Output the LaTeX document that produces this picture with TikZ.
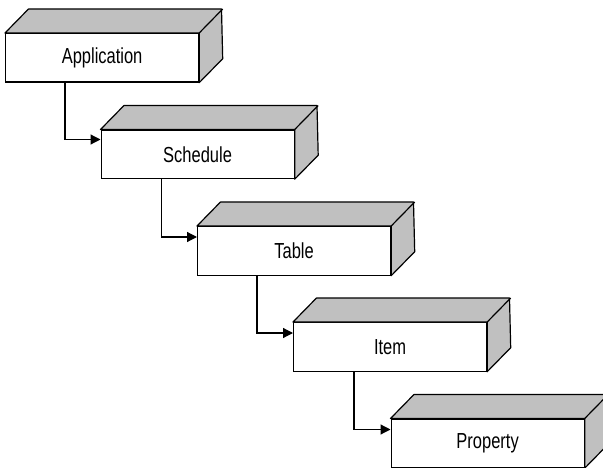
\documentclass[tikz,border=0pt]{standalone}
\usepackage{fontspec}
\setmainfont{Liberation Sans}
\usetikzlibrary{arrows.meta}
\definecolor{facegray}{RGB}{192,192,192}
\newcommand{\tallcaption}[1]{\scalebox{0.97}[1.28]{#1}}
\tikzset{
  front/.style={draw=black, line width=1.2pt, fill=white, rectangle,
    minimum width=193pt, minimum height=48.5pt, anchor=north west,
    inner sep=0pt, font=\fontsize{17}{20}\selectfont},
  face/.style={draw=black, line width=1.2pt, fill=facegray, line join=round},
  link/.style={draw=black, line width=1.2pt,
    -{Triangle[length=10pt,width=10pt]}},
}
\newcommand{\depthbox}[3]{%
  \node[front] (#1) at #2 {\tallcaption{#3}};
  \filldraw[face] (#1.north west) -- ++(23.5,-24) -- ++(193,0)
    -- ([shift={(23.5,-24)}]#1.south east) -- (#1.south east)
    -- (#1.north east) -- cycle;
  \draw[line width=1.2pt] (#1.north east) -- ++(23.5,-24);
}
\begin{document}
\begin{tikzpicture}[x=1pt,y=-1pt]
  \clip (0,0) rectangle (603,468);
  \depthbox{app}{(5,33)}{Application}
  \depthbox{sched}{(100.5,129.5)}{Schedule}
  \depthbox{tab}{(197,226)}{Table}
  \depthbox{item}{(293,322)}{Item}
  \depthbox{prop}{(390.5,418.5)}{Property}
  \draw[link] ([xshift=60pt]app.south west) |- ([yshift=-10pt]sched.north west);
  \draw[link] ([xshift=61pt]sched.south west) |- ([yshift=-11pt]tab.north west);
  \draw[link] ([xshift=60pt]tab.south west) |- ([yshift=-11pt]item.north west);
  \draw[link] ([xshift=61pt]item.south west) |- ([yshift=-11pt]prop.north west);
\end{tikzpicture}
\end{document}
